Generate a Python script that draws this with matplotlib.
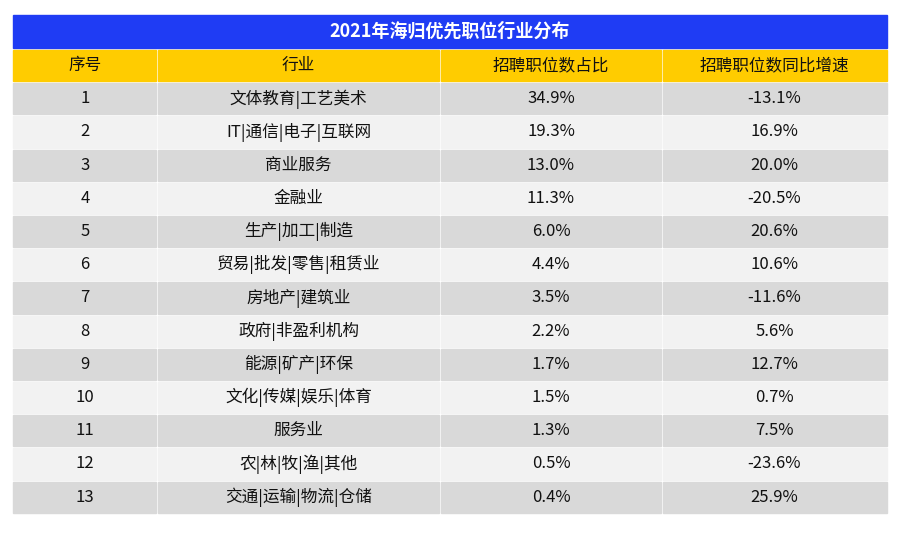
import matplotlib.pyplot as plt
from matplotlib.patches import Rectangle

plt.rcParams['font.family'] = ['Noto Sans CJK SC', 'DejaVu Sans']

title = "2021年海归优先职位行业分布"
headers = ["序号", "行业", "招聘职位数占比", "招聘职位数同比增速"]
ranks = [str(i) for i in range(1, 14)]
industries = ["文体教育|工艺美术", "IT|通信|电子|互联网", "商业服务", "金融业", "生产|加工|制造",
              "贸易|批发|零售|租赁业", "房地产|建筑业", "政府|非盈利机构", "能源|矿产|环保",
              "文化|传媒|娱乐|体育", "服务业", "农|林|牧|渔|其他", "交通|运输|物流|仓储"]
shares = ["34.9%", "19.3%", "13.0%", "11.3%", "6.0%", "4.4%", "3.5%", "2.2%", "1.7%",
          "1.5%", "1.3%", "0.5%", "0.4%"]
growth = ["-13.1%", "16.9%", "20.0%", "-20.5%", "20.6%", "10.6%", "-11.6%", "5.6%",
          "12.7%", "0.7%", "7.5%", "-23.6%", "25.9%"]

col_edges = [13, 157, 440, 662, 887]
top, title_h, row_h, gap = 15, 33, 33.2, 2

fig = plt.figure(figsize=(9.03, 5.34), dpi=100)
ax = fig.add_axes([0, 0, 1, 1])
ax.set_xlim(0, 903)
ax.set_ylim(534, 0)
ax.axis('off')

ax.add_patch(Rectangle((col_edges[0], top), col_edges[-1] - col_edges[0], title_h, color='#1F3CF4'))
ax.text((col_edges[0] + col_edges[-1]) / 2, top + title_h / 2, title, color='white',
        fontsize=13, fontweight='bold', ha='center', va='center')

rows = [headers] + [list(r) for r in zip(ranks, industries, shares, growth)]
y = top + title_h + gap
for i, row in enumerate(rows):
    if i == 0:
        fc = '#FFCC00'
    else:
        fc = '#D9D9D9' if i % 2 == 1 else '#F2F2F2'
    for j, val in enumerate(row):
        x0, x1 = col_edges[j], col_edges[j + 1]
        ax.add_patch(Rectangle((x0 + (gap / 2 if j else 0), y), x1 - x0 - (gap / 2 if j else 0) - (gap / 2 if j < 3 else 0),
                               row_h - gap, color=fc))
        ax.text((x0 + x1) / 2, y + (row_h - gap) / 2, val, fontsize=12, ha='center', va='center',
                color='#111111')
    y += row_h

fig.savefig('out.png', dpi=100)
